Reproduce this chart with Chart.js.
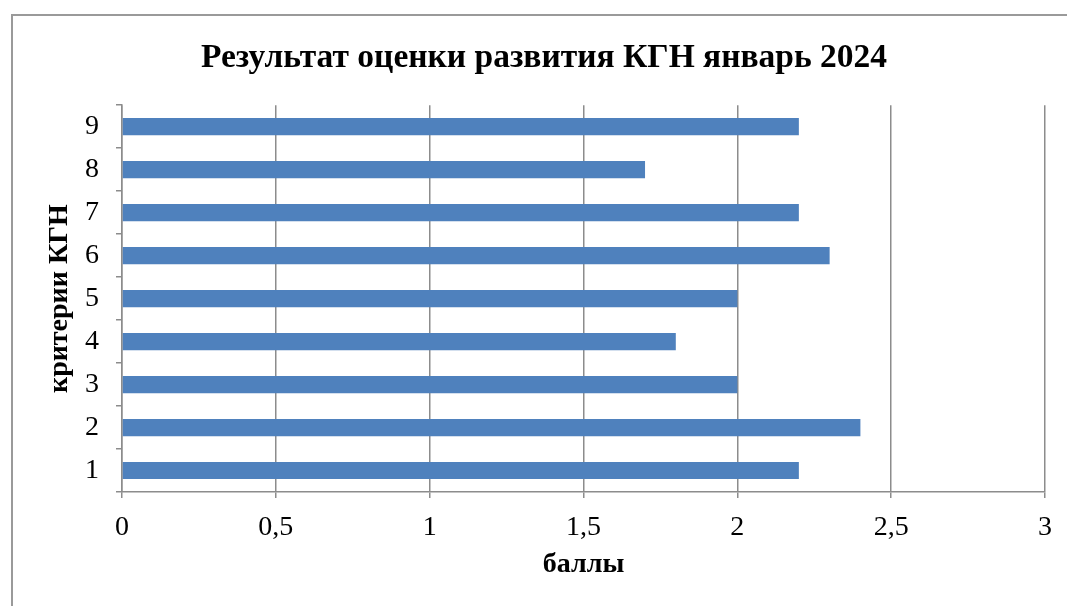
<!DOCTYPE html>
<html><head><meta charset="utf-8">
<script src="https://cdn.jsdelivr.net/npm/chart.js@4"></script>
<style>
html,body{margin:0;padding:0;background:#fff;overflow:hidden;width:1067px;height:606px}
#frame{position:absolute;left:11px;top:14px;width:1100px;height:700px;border:2px solid #9a9a9a;box-sizing:border-box}
#wrap{position:absolute;left:0;top:0;width:1067px;height:606px}
</style></head>
<body>
<div id="frame"></div>
<div id="wrap"><canvas id="c" width="1067" height="606"></canvas></div>
<script>
const categories = ['1','2','3','4','5','6','7','8','9'];
const values = [2.2, 2.4, 2.0, 1.8, 2.0, 2.3, 2.2, 1.7, 2.2];
const xTickLabels = ['0','0,5','1','1,5','2','2,5','3'];
const titleText = 'Результат оценки развития КГН январь 2024';
const xTitle = 'баллы';
const yTitle = 'критерии КГН';

const serif = "'Liberation Serif','Times New Roman',serif";
const gridColor = '#8c8c8c';

new Chart(document.getElementById('c'), {
  type: 'bar',
  data: {
    labels: categories,
    datasets: [{
      data: values,
      backgroundColor: '#4F81BD',
      borderWidth: 0,
      categoryPercentage: 1,
      barPercentage: 0.4
    }]
  },
  options: {
    indexAxis: 'y',
    responsive: false,
    animation: false,
    devicePixelRatio: 1,
    layout: { padding: { left: 43, right: 22, top: 0, bottom: 24 } },
    plugins: {
      legend: { display: false },
      tooltip: { enabled: false },
      title: {
        display: true,
        text: titleText,
        color: '#000',
        font: { family: serif, size: 33.5, weight: 'bold' },
        padding: { top: 38, bottom: 27 }
      }
    },
    scales: {
      x: {
        min: 0, max: 3,
        ticks: {
          stepSize: 0.5,
          color: '#000',
          font: { family: serif, size: 28 },
          padding: 13,
          maxRotation: 0,
          callback: (v, i) => xTickLabels[i]
        },
        grid: { color: gridColor, lineWidth: 1.5, tickLength: 6, drawTicks: true },
        border: { display: true, color: gridColor, width: 1.5 },
        title: {
          display: true, text: xTitle, color: '#000',
          font: { family: serif, size: 28, weight: 'bold' },
          padding: 0
        },
        afterFit: (s) => { s.height = 90; }
      },
      y: {
        reverse: true,
        ticks: {
          color: '#000',
          font: { family: serif, size: 28 },
          padding: 17
        },
        grid: { display: true, drawOnChartArea: false, offset: true, color: gridColor, lineWidth: 1.5, tickLength: 6 },
        border: { display: true, color: gridColor, width: 1.5 },
        title: {
          display: true, text: yTitle, color: '#000',
          font: { family: serif, size: 28, weight: 'bold' },
          padding: 0
        },
        afterFit: (s) => { s.width = 79; }
      }
    }
  }
});
</script>
</body></html>
